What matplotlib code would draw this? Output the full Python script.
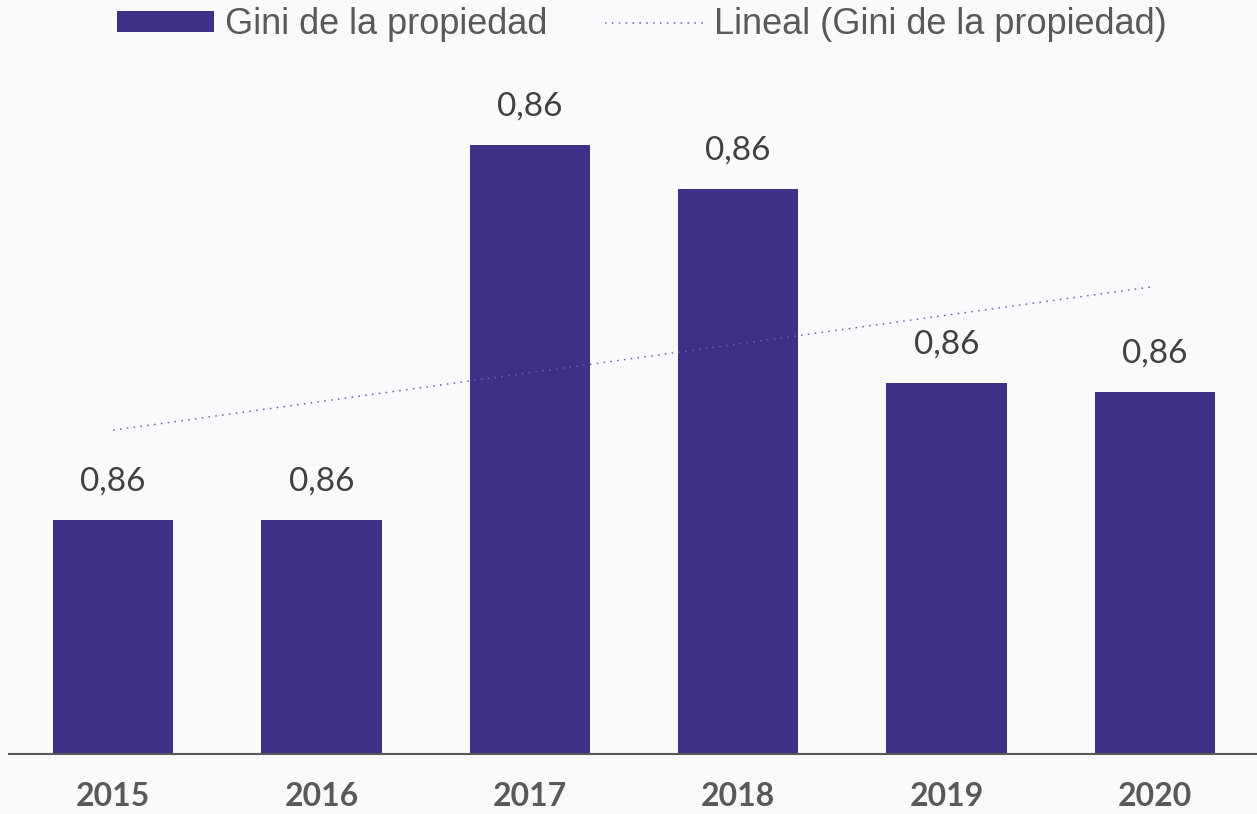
import matplotlib
matplotlib.use("Agg")
import matplotlib.pyplot as plt
import numpy as np
from matplotlib.patches import Patch
from matplotlib.lines import Line2D

years = ["2015", "2016", "2017", "2018", "2019", "2020"]
gini = [0.8563, 0.8563, 0.8648, 0.8638, 0.8594, 0.8592]
labels = ["0,86", "0,86", "0,86", "0,86", "0,86", "0,86"]
series_name = "Gini de la propiedad"
trend_name = "Lineal (Gini de la propiedad)"

BAR = "#3F3087"
TREND = "#6A5FB8"
BG = "#FAFAFC"

W, H = 1257, 814
fig = plt.figure(figsize=(W / 100, H / 100), dpi=100, facecolor=BG)
ax_left, ax_right = 9, 1259
ax_bottom, ax_top = 754, 100
ax = fig.add_axes([ax_left / W, (H - ax_bottom) / H, (ax_right - ax_left) / W, (ax_bottom - ax_top) / H])
ax.set_facecolor(BG)

x = np.arange(len(years))
ax.bar(x, gini, width=0.577, color=BAR, zorder=2)

# linear trend
coef = np.polyfit(x, gini, 1)
ax.plot(x, np.polyval(coef, x), color=TREND, lw=1.1, dashes=(1, 3.5), zorder=3)

for xi, v, lab in zip(x, gini, labels):
    ax.annotate(lab, (xi, v), xytext=(0, 17), textcoords="offset points",
                ha="center", va="bottom", fontsize=24, color="#404040", family="Lato")

ymin = 0.851
ax.set_ylim(ymin, ymin + 654 / 44130)
ax.set_xlim(-0.5, len(years) - 0.5)

for s in ["top", "right", "left"]:
    ax.spines[s].set_visible(False)
ax.spines["bottom"].set_color("#595959")
ax.spines["bottom"].set_linewidth(1.5)
ax.set_yticks([])
ax.set_xticks(x)
ax.set_xticklabels(years, fontsize=23, fontweight="bold", color="#595959", family="Lato")
ax.tick_params(axis="x", length=0, pad=20)

handles = [Patch(facecolor=BAR, edgecolor="none"),
           Line2D([0], [0], color=TREND, lw=1.1, dashes=(1, 3.5))]
leg = fig.legend(handles, [series_name, trend_name], loc="center",
                 bbox_to_anchor=(641.5 / W, 1 - 25 / H), ncol=2, frameon=False,
                 handlelength=2.7, handleheight=0.5, handletextpad=0.3,
                 columnspacing=1.6, labelcolor="#595959", borderpad=0,
                 prop={"family": "Liberation Sans", "size": 26})
fig.savefig("out.png", dpi=100, facecolor=BG)
